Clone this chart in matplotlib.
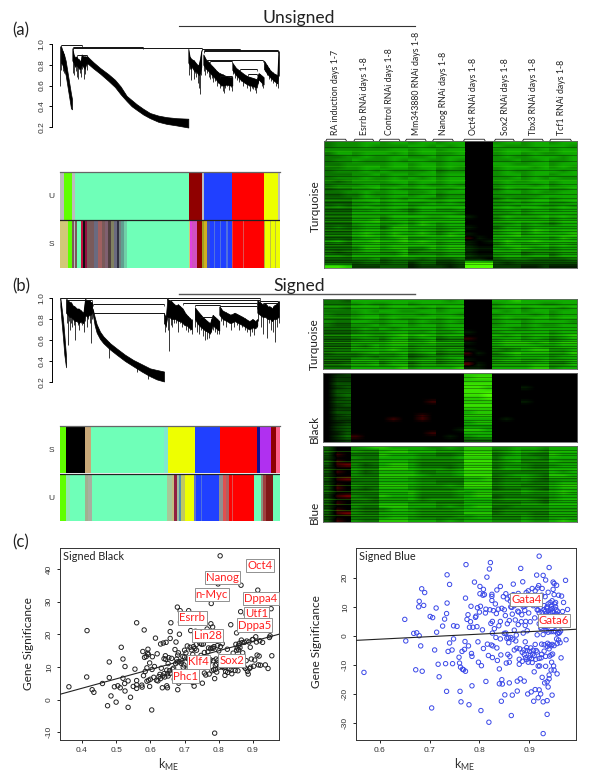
import matplotlib
matplotlib.use("Agg")
import matplotlib.pyplot as plt
from matplotlib.colors import LinearSegmentedColormap
from matplotlib.lines import Line2D
import numpy as np

W, H = 600, 776
FONT = "Lato"
TICK_FONT = "Liberation Sans"

AQUA = "#6fffb8"
GREEN = "#60ff00"
BLUE = "#2040ff"
RED = "#ff0000"
YEL = "#eeff00"
DRED = "#900000"
GREY = "#bdbdbd"
KHAK = "#d2c878"
TAN = "#c8a878"
MAG = "#e040e0"
PURP = "#b030f0"
BRN = "#7a5a5a"
SLAT = "#6a6a80"
PINK = "#ff6088"
NAVY = "#101090"

# ---- module colour rows: (width, colour), widths in bar units ----
a_unsigned = [(12, GREY), (23, GREEN), (10, GREY), (342, AQUA), (38, DRED), (6, GREY),
              (83, BLUE), (95, RED), (42, YEL), (7, GREY)]
a_signed = [(23, KHAK), (12, GREEN), (6, BRN), (5, GREY), (4, BRN), (13, AQUA), (5, "#c01040"),
            (6, "#101010"), (8, "#901040"), (20, BRN), (12, SLAT), (12, "#a06060"), (9, BRN), (8, "#806070"),
            (9, "#504040"), (9, "#808060"), (8, SLAT), (6, "#303040"), (7, "#708080"), (10, "#60a090"),
            (8, "#70d0a8"), (185, AQUA), (4, KHAK), (6, MAG), (15, "#d050c0"), (15, DRED), (6, "#a0a020"),
            (9, "#d0b020"), (8, "#4050c0"), (12, BLUE), (4, "#5070e0"), (14, BLUE), (4, "#5070e0"),
            (15, BLUE), (4, "#5070e0"), (13, BLUE), (4, "#e04040"), (30, RED), (3, "#e05050"), (58, RED),
            (5, "#b0b030"), (13, YEL), (4, "#c0c040"), (13, YEL), (3, "#c0c040"), (11, YEL)]
b_signed = [(18, GREEN), (58, "#000000"), (16, TAN), (218, AQUA), (12, "#80e8d0"), (82, YEL), (74, BLUE),
            (112, RED), (8, NAVY), (32, PURP), (15, DRED), (13, PINK)]
b_unsigned = [(17, GREEN), (12, "#90e8b0"), (46, AQUA), (10, "#a0b090"), (10, "#a8b0a0"), (226, AQUA),
              (15, "#a8c898"), (5, "#c0c080"), (8, "#902040"), (6, "#a0c0a0"), (8, "#5090b0"), (10, "#c0c860"),
              (28, YEL), (6, "#6070d0"), (14, BLUE), (4, "#5070e0"), (50, BLUE), (12, "#909090"), (8, "#e05050"),
              (10, "#b06060"), (8, RED), (4, "#e05050"), (63, RED), (20, AQUA), (8, "#909080"), (8, "#a04040"),
              (22, "#801818"), (20, AQUA)]

# ---- dendrogram branches: (x, top height, bottom height) in leaf units ----
a_branch_1 = [(183, 0.98, 0.82), (187, 0.94, 0.80), (192, 0.90, 0.76), (197, 0.84, 0.70),
              (203, 0.72, 0.58), (208, 0.62, 0.48), (213, 0.52, 0.38), (216, 0.47, 0.37)]
a_branch_2 = [(217, 0.96, 0.84), (221, 0.90, 0.82), (225, 0.87, 0.78), (229, 0.88, 0.80), (233, 0.86, 0.78),
              (238, 0.85, 0.76), (241, 0.82, 0.76), (245, 0.90, 0.80), (250, 0.88, 0.78), (254, 0.88, 0.76),
              (258, 0.88, 0.80), (262, 0.88, 0.82)]
a_main = [(262, 0.88, 0.815), (280, 0.825, 0.765), (300, 0.77, 0.715), (325, 0.71, 0.645), (345, 0.655, 0.585),
          (362, 0.59, 0.515), (380, 0.50, 0.45), (395, 0.46, 0.40), (410, 0.42, 0.365), (430, 0.375, 0.32),
          (450, 0.335, 0.285), (475, 0.31, 0.25), (500, 0.295, 0.23), (530, 0.285, 0.215), (565, 0.28, 0.195)]
a_branch_3 = [(565, 0.955, 0.82), (569, 0.88, 0.80), (573, 0.86, 0.76), (577, 0.85, 0.78), (582, 0.84, 0.74),
              (587, 0.82, 0.74), (592, 0.80, 0.72), (596, 0.80, 0.70), (600, 0.86, 0.72), (604, 0.94, 0.78)]
a_branch_4 = [(610, 0.90, 0.80), (618, 0.85, 0.76), (625, 0.83, 0.74), (633, 0.80, 0.71), (642, 0.77, 0.68),
              (650, 0.74, 0.65), (658, 0.72, 0.62), (666, 0.71, 0.60), (672, 0.70, 0.60), (680, 0.69, 0.61),
              (690, 0.68, 0.60), (697, 0.68, 0.60)]
a_branch_5 = [(697, 0.82, 0.75), (708, 0.77, 0.70), (720, 0.74, 0.66), (732, 0.71, 0.63), (742, 0.69, 0.61),
              (752, 0.68, 0.60), (762, 0.67, 0.59), (770, 0.66, 0.58), (776, 0.72, 0.66), (784, 0.70, 0.63),
              (791, 0.68, 0.61)]
a_branch_6 = [(792, 0.84, 0.76), (800, 0.80, 0.72), (810, 0.75, 0.68), (820, 0.72, 0.65), (832, 0.70, 0.62),
              (835, 0.93, 0.72)]
a_merges = [(182, 245, 0.99), (220, 430, 0.975), (220, 605, 0.96), (607, 720, 0.955), (612, 835, 0.945),
            (612, 835, 0.93), (620, 790, 0.85), (630, 697, 0.84), (660, 695, 0.695), (720, 770, 0.76),
            (745, 770, 0.71), (230, 260, 0.895)]
# thin leaves hanging from the branches: x, lowest height
a_leaf_x = [181, 184, 188, 191, 219, 223, 227, 231, 235, 239, 243, 247, 252, 256, 260, 567, 570, 574, 578, 581, 585,
            589, 594, 597, 600, 603, 612, 616, 620, 626, 630, 636, 640, 646, 650, 655, 660, 664, 668, 671, 676, 682,
            687, 692, 696, 700, 706, 712, 718, 724, 730, 736, 742, 746, 751, 756, 760, 765, 769, 775, 780, 786, 790,
            795, 800, 806, 812, 818, 824, 829, 833, 836]
a_leaf_y = [0.60, 0.75, 0.74, 0.72, 0.72, 0.70, 0.74, 0.68, 0.66, 0.72, 0.68, 0.76, 0.66, 0.71, 0.75, 0.70, 0.76, 0.65,
            0.76, 0.66, 0.72, 0.68, 0.62, 0.58, 0.52, 0.70, 0.74, 0.70, 0.72, 0.68, 0.66, 0.67, 0.63, 0.64, 0.60, 0.62,
            0.58, 0.60, 0.55, 0.53, 0.58, 0.60, 0.56, 0.59, 0.55, 0.71, 0.67, 0.65, 0.63, 0.64, 0.60, 0.62, 0.58, 0.60,
            0.55, 0.58, 0.57, 0.56, 0.53, 0.62, 0.64, 0.60, 0.58, 0.74, 0.70, 0.66, 0.64, 0.62, 0.65, 0.60, 0.58, 0.69]

b_branch_1 = [(181, 1.0, 0.92), (185, 0.9, 0.76), (189, 0.8, 0.62), (193, 0.65, 0.46), (198, 0.45, 0.34)]
b_branch_2 = [(198, 0.99, 0.86), (203, 0.98, 0.84), (208, 0.96, 0.82), (213, 0.96, 0.82), (218, 0.93, 0.80),
              (224, 0.92, 0.78), (230, 0.90, 0.78), (236, 0.90, 0.76), (243, 0.88, 0.78), (250, 0.86, 0.76),
              (255, 0.99, 0.84), (262, 0.98, 0.82), (268, 0.98, 0.84), (272, 0.96, 0.84), (276, 0.96, 0.86)]
b_main = [(278, 0.90, 0.85), (284, 0.82, 0.74), (290, 0.75, 0.67), (300, 0.68, 0.61), (310, 0.635, 0.57),
          (330, 0.57, 0.51), (350, 0.52, 0.46), (375, 0.46, 0.40), (400, 0.41, 0.35), (425, 0.37, 0.30),
          (450, 0.33, 0.255), (470, 0.315, 0.225), (492, 0.30, 0.205)]
b_branch_3 = [(492, 0.86, 0.76), (497, 0.80, 0.74), (502, 0.99, 0.82), (508, 0.98, 0.82), (514, 0.97, 0.80),
              (520, 0.95, 0.80), (527, 0.93, 0.80), (534, 0.94, 0.78), (541, 0.92, 0.78), (548, 0.90, 0.76),
              (555, 0.86, 0.74), (560, 0.84, 0.74), (566, 0.82, 0.72), (575, 0.79, 0.70)]
b_branch_4 = [(585, 0.91, 0.80), (592, 0.88, 0.76), (600, 0.85, 0.73), (608, 0.82, 0.71), (615, 0.80, 0.69),
              (622, 0.78, 0.68), (630, 0.76, 0.66), (638, 0.84, 0.74), (645, 0.82, 0.72), (652, 0.80, 0.70),
              (658, 0.78, 0.69)]
b_branch_5 = [(658, 0.92, 0.84), (668, 0.88, 0.80), (680, 0.86, 0.78), (692, 0.84, 0.76), (704, 0.86, 0.78),
              (716, 0.84, 0.76), (728, 0.82, 0.74), (738, 0.80, 0.72), (748, 0.78, 0.70), (758, 0.80, 0.72),
              (766, 0.78, 0.71), (772, 0.80, 0.74)]
b_branch_6 = [(772, 0.98, 0.86), (780, 0.96, 0.84), (788, 0.94, 0.82), (796, 0.95, 0.82), (803, 0.92, 0.80),
              (810, 0.92, 0.80), (816, 0.90, 0.78), (822, 0.93, 0.80), (828, 0.94, 0.80), (836, 0.97, 0.82)]
b_merges = [(181, 500, 1.0), (200, 275, 0.985), (278, 492, 0.945), (278, 492, 0.86), (502, 780, 1.0),
            (510, 780, 0.985), (548, 770, 0.955), (585, 660, 0.93), (660, 770, 0.92), (600, 640, 0.82),
            (780, 835, 0.975), (790, 835, 0.95)]
b_leaf_x = [183, 200, 203, 206, 210, 214, 217, 221, 225, 228, 233, 238, 242, 247, 252, 256, 260, 265, 269, 272, 275,
            328, 412, 445, 494, 498, 504, 508, 512, 517, 522, 528, 534, 540, 546, 552, 558, 564, 570, 576, 586, 592,
            598, 604, 610, 616, 622, 628, 634, 640, 646, 652, 657, 662, 670, 678, 686, 694, 702, 710, 718, 726, 734,
            742, 749, 756, 763, 770, 775, 782, 790, 800, 806, 812, 820, 826, 832, 836]
b_leaf_y = [0.88, 0.76, 0.55, 0.78, 0.70, 0.76, 0.72, 0.74, 0.60, 0.78, 0.74, 0.70, 0.76, 0.74, 0.68, 0.78, 0.72, 0.80,
            0.76, 0.57, 0.80, 0.43, 0.30, 0.23, 0.68, 0.72, 0.70, 0.50, 0.74, 0.72, 0.76, 0.76, 0.68, 0.76, 0.72, 0.74,
            0.70, 0.68, 0.70, 0.66, 0.72, 0.68, 0.66, 0.70, 0.64, 0.60, 0.61, 0.62, 0.68, 0.70, 0.68, 0.66, 0.66, 0.78,
            0.74, 0.72, 0.76, 0.70, 0.72, 0.74, 0.70, 0.72, 0.70, 0.68, 0.64, 0.68, 0.65, 0.72, 0.78, 0.72, 0.66, 0.62,
            0.76, 0.70, 0.68, 0.58, 0.72, 0.76]

# ---- heat maps, top row first: 3 columns for each of 9 sample groups ----
# digits are green brightness, letters a-c are red brightness
heat_turquoise_a = """
455 566 566 566 566 000 566 566 566
455 565 555 665 656 000 655 566 665
555 555 566 566 566 000 566 656 566
466 566 656 566 556 000 566 565 566
445 565 566 556 566 000 565 566 656
455 655 565 665 565 000 556 556 556
445 555 566 566 566 000 665 566 566
445 566 566 566 565 000 566 656 565
455 565 655 556 455 000 565 566 656
444 556 566 566 566 000 566 566 566
455 565 565 656 566 000 556 565 655
434 555 566 566 566 000 565 566 566
455 566 556 565 565 000 566 656 566
344 556 565 566 556 000 465 566 556
445 565 566 556 566 000 566 565 566
334 465 566 566 455 000 555 556 666
444 566 565 665 566 000 465 566 566
333 556 566 556 565 000 556 566 556
454 565 566 566 666 000 565 665 565
333 556 565 466 556 000 566 566 566
444 666 666 566 665 000 556 566 666
333 555 466 665 566 100 465 556 565
444 667 566 566 666 000 566 666 566
333 566 556 576 566 000 556 565 466
454 566 477 666 566 100 466 566 666
333 566 566 565 456 000 566 576 566
444 676 576 676 576 100 567 566 667
333 566 567 556 666 a10 666 666 576
564 667 667 676 566 101 576 676 666
333 566 566 666 566 100 466 556 565
444 577 677 557 677 211 667 766 566
323 455 446 344 455 100 555 344 455
554 666 667 666 566 211 566 566 466
333 445 344 434 334 110 344 433 334
333 344 344 244 223 999 323 333 333
887 222 333 122 212 999 222 112 111
"""

heat_turquoise_b = """
443 666 666 666 656 000 667 666 666
444 565 566 566 666 000 566 665 566
554 666 566 656 566 000 566 566 656
444 565 665 566 566 000 656 566 566
544 566 566 656 665 000 566 656 566
444 566 565 566 566 000 565 566 566
544 665 566 565 565 000 566 566 665
433 556 566 566 566 000 566 565 566
444 565 656 666 566 000 665 566 666
333 455 566 556 556 100 566 666 566
444 665 567 676 566 000 656 566 567
333 455 466 456 344 a00 566 565 456
444 666 677 667 666 100 677 767 677
333 546 566 455 444 000 566 665 566
444 666 676 566 566 100 545 677 556
344 456 556 456 344 a10 467 666 557
444 454 556 345 566 000 556 666 566
333 666 566 566 456 100 566 556 556
334 556 466 355 455 b10 555 566 446
444 666 667 566 667 110 666 677 566
"""

heat_black_b = """
012 000 000 000 000 777 000 000 000
022 000 000 000 000 788 000 000 000
022 000 000 000 000 777 000 000 000
033 000 000 000 000 888 000 000 000
023 000 000 000 000 887 000 100 000
033 000 000 000 000 888 000 000 000
034 000 000 000 000 889 000 000 000
023 000 000 000 000 778 000 000 000
033 000 000 00a 000 777 000 100 000
023 000 000 000 000 888 000 000 000
022 000 000 000 000 777 000 000 000
033 000 000 000 000 677 000 000 000
023 000 000 0a0 000 777 000 000 000
022 000 0a0 0a0 000 666 010 000 000
012 000 000 000 000 677 000 000 000
023 000 000 000 000 555 000 000 000
023 000 000 000 001 776 000 000 000
013 000 000 00a 000 666 000 000 000
024 a00 000 000 010 566 000 000 000
012 000 000 000 000 333 000 000 000
"""

heat_blue_b = """
300 567 766 665 565 777 556 665 666
300 544 677 666 555 777 456 554 666
3a0 444 766 655 445 888 456 544 766
200 544 666 655 556 777 466 554 666
3a0 444 666 544 444 888 456 444 655
3ab 534 677 644 445 777 455 544 566
200 544 777 655 545 888 466 544 666
3a0 534 666 644 556 777 444 444 656
200 544 777 765 556 888 456 654 776
3ab 444 666 544 444 667 344 543 555
200 444 666 655 444 777 455 544 566
3a0 544 777 655 565 888 455 444 677
3a0 434 666 544 445 666 344 543 566
300 444 666 755 556 677 555 655 676
2ab 544 766 644 445 677 344 444 566
300 443 555 645 555 666 455 543 566
3a0 444 666 555 444 666 444 554 666
200 544 777 666 565 677 445 555 666
3a0 433 466 544 445 666 344 444 555
3ab 544 666 655 555 777 455 544 666
200 444 566 544 445 566 444 544 555
3a0 544 777 666 565 666 555 655 676
"""

# fine dark and bright gene rows inside the heat maps, in row units
turq_a_dark = [1.3, 3.6, 5.2, 7.8, 9.4, 11.7, 13.1, 14.4, 15.6, 16.8, 17.6, 18.7, 19.4, 20.3, 21.2, 21.9, 22.8, 23.5,
               24.3, 25.1, 25.8, 26.6, 27.3, 28.1, 28.7, 29.5, 30.2, 30.9, 31.6, 32.4, 33.1, 33.8, 34.3]
turq_a_light = [2.4, 6.5, 10.6, 12.4, 16.2, 18.2, 20.8, 22.3, 24.8, 26.2, 27.8, 29.1, 30.6, 32.0]
turq_b_dark = [0.8, 2.2, 3.7, 5.1, 6.4, 7.6, 8.3, 9.2, 10.1, 10.8, 11.4, 12.2, 12.9, 13.6, 14.3, 15.1, 15.8, 16.5,
               17.2, 17.9, 18.5]
turq_b_light = [1.6, 4.5, 9.7, 11.8, 13.2, 14.7, 16.9, 18.1]
black_dark = [0.7, 1.9, 3.1, 3.9, 5.2, 6.4, 7.3, 8.1, 9.4, 10.2, 11.3, 12.1, 13.0, 13.8, 14.6, 15.5, 16.2, 17.3, 18.1,
              18.8]
black_light = []
blue_dark = [0.6, 1.4, 2.2, 3.3, 4.1, 4.9, 5.7, 6.5, 7.2, 8.1, 8.8, 9.6, 10.4, 11.2, 11.9, 12.8, 13.5, 14.3, 15.1,
             15.8, 16.6, 17.4, 18.3, 19.1, 19.9, 20.7]
blue_light = [1.0, 3.7, 6.1, 8.4, 10.8, 12.4, 14.7, 16.2, 17.9, 19.5]

group_labels = ["RA induction days 1-7", "Esrrb RNAi days 1-8", "Control RNAi days 1-8",
                "Mm343880 RNAi days 1-8", "Nanog RNAi days 1-8", "Oct4 RNAi days 1-8",
                "Sox2 RNAi days 1-8", "Tbx3 RNAi days 1-8", "Tcf1 RNAi days 1-8"]
# label centres and bracket spans in heat map columns (27 columns wide)
group_centres = [1.28, 4.27, 7.04, 9.82, 12.7, 16.0, 19.4, 22.4, 25.3]
group_spans = [(0.2, 2.4), (3.2, 5.3), (5.9, 8.1), (8.7, 10.9), (11.6, 13.8), (14.9, 17.2),
               (18.2, 20.3), (21.2, 23.4), (24.1, 26.4)]

# ---- scatter data (k_ME, gene significance) ----
black_points = [
    (0.362, 3.9), (0.415, 21.1), (0.414, 6.9), (0.43, 3.0), (0.435, 2.2), (0.46, 4.9), (0.475, -1.9),
    (0.48, 11.5), (0.48, 6.7), (0.485, 1.1), (0.495, 3.9), (0.5, -0.8), (0.505, 4.2), (0.512, 3.6),
    (0.515, 16.0), (0.52, 12.4), (0.52, 6.5), (0.526, 10.1), (0.525, 4.9), (0.526, 2.6), (0.535, 5.7),
    (0.535, -2.4), (0.542, 0.7), (0.55, 4.0), (0.555, 9.3), (0.56, 4.5), (0.56, 23.5), (0.56, 5.8),
    (0.56, 3.4), (0.575, 4.4), (0.576, 3.8), (0.578, 14.7), (0.58, 7.3), (0.582, 21.3), (0.583, 12.9),
    (0.585, 8.6), (0.588, 13.2), (0.59, 5.6), (0.59, 9.7), (0.592, 14.2), (0.593, 15.4), (0.594, 13.8),
    (0.595, 5.9), (0.598, 11.2), (0.598, 4.0), (0.6, 6.2), (0.604, -3.2), (0.605, 9.2), (0.606, 13.1),
    (0.61, 6.8), (0.612, 10.1), (0.615, 18.8), (0.618, 5.9), (0.62, 14.0), (0.625, 7.0), (0.628, 7.7),
    (0.63, 17.0), (0.632, 9.6), (0.635, 3.6), (0.638, 17.3), (0.64, 12.5), (0.642, 6.9), (0.644, 13.4),
    (0.645, 12.3), (0.646, 17.5), (0.648, 4.2), (0.65, 3.6), (0.65, 7.9), (0.652, 11.0), (0.654, 12.8),
    (0.656, 8.8), (0.658, 18.7), (0.658, 20.8), (0.66, 23.5), (0.662, 12.6), (0.665, 9.3), (0.67, 6.2),
    (0.672, 15.3), (0.675, 17.6), (0.677, 12.4), (0.678, 11.5), (0.679, 28.3), (0.68, 3.0), (0.682, 14.3),
    (0.683, 5.0), (0.685, 20.0), (0.687, 27.2), (0.688, 23.7), (0.69, 11.1), (0.692, 7.3), (0.695, 13.2),
    (0.698, 10.6), (0.7, 15.1), (0.702, 8.3), (0.705, 6.4), (0.708, 16.4), (0.71, 12.5), (0.712, 27.2),
    (0.714, 6.0), (0.718, 21.1), (0.72, 7.8), (0.722, 11.9), (0.724, 5.2), (0.726, 16.2), (0.728, 4.1),
    (0.73, 15.6), (0.732, 20.9), (0.735, 15.1), (0.737, 9.5), (0.74, 19.2), (0.742, 12.6), (0.745, 17.2),
    (0.748, 13.5), (0.75, 23.5), (0.752, 5.0), (0.755, 17.0), (0.758, 14.4), (0.76, 9.8), (0.762, 7.5),
    (0.766, 21.6), (0.768, 10.5), (0.77, 15.8), (0.772, 7.8), (0.775, 12.2), (0.777, 23.2), (0.778, 29.4),
    (0.78, 15.8), (0.782, 22.2), (0.784, 15.7), (0.785, 9.1), (0.788, 6.4), (0.788, -10.3), (0.79, 10.5),
    (0.792, 12.4), (0.794, 8.4), (0.796, 16.5), (0.798, 35.4), (0.802, 9.9), (0.804, 44.0), (0.805, 16.2),
    (0.808, 10.1), (0.81, 17.1), (0.812, 12.2), (0.815, 9.7), (0.818, 7.4), (0.82, 8.6), (0.822, 11.0),
    (0.825, 15.4), (0.83, 9.4), (0.835, 22.9), (0.838, 7.9), (0.84, 10.4), (0.844, 11.5), (0.848, 8.9),
    (0.85, 16.9), (0.852, 20.4), (0.854, 15.8), (0.856, 8.8), (0.858, 15.2), (0.86, 17.2), (0.862, 11.2),
    (0.864, 26.9), (0.865, 35.0), (0.866, 18.2), (0.868, 17.4), (0.87, 14.3), (0.875, 17.5), (0.878, 9.5),
    (0.88, 26.0), (0.882, 17.9), (0.884, 8.6), (0.886, 7.8), (0.89, 9.5), (0.892, 16.0), (0.895, 12.4),
    (0.898, 18.3), (0.902, 10.2), (0.905, 12.1), (0.908, 19.2), (0.912, 13.6), (0.914, 33.5), (0.916, 10.6),
    (0.918, 13.3), (0.92, 18.0), (0.922, 10.5), (0.925, 30.5), (0.928, 17.5), (0.932, 26.5), (0.936, 10.6),
    (0.94, 22.8), (0.944, 9.5), (0.945, 39.6), (0.948, 19.0), (0.95, 19.5), (0.953, 27.8), (0.955, 13.4),
    (0.622, 5.7), (0.63, 6.4), (0.636, 7.2), (0.64, 7.9), (0.648, 9.0), (0.652, 7.2), (0.658, 8.0), (0.668, 9.6),
    (0.674, 11.0), (0.68, 13.6), (0.684, 11.6), (0.692, 11.8), (0.696, 9.9), (0.7, 13.0), (0.704, 14.3),
    (0.71, 9.5), (0.716, 16.0), (0.72, 15.2), (0.724, 13.8), (0.728, 9.2), (0.734, 16.8), (0.738, 12.0),
    (0.744, 11.1), (0.75, 16.9), (0.754, 10.2), (0.758, 8.1), (0.762, 12.8), (0.768, 14.6), (0.772, 11.4),
    (0.776, 15.6), (0.78, 8.8), (0.784, 11.9), (0.786, 16.2), (0.79, 9.2), (0.794, 10.8), (0.798, 12.0),
    (0.8, 14.9), (0.806, 11.4), (0.81, 10.0), (0.814, 11.7), (0.82, 9.9), (0.826, 8.3), (0.832, 12.4),
    (0.836, 9.0), (0.842, 14.2), (0.846, 10.3), (0.852, 15.1), (0.858, 16.6), (0.862, 15.9), (0.87, 11.0),
    (0.874, 10.0), (0.88, 11.9), (0.888, 17.6), (0.893, 9.9), (0.9, 18.4), (0.91, 17.6),
]

blue_points = [
    (0.568, -12.5), (0.65, 5.7), (0.652, -1.7), (0.668, 0.9), (0.674, 1.1), (0.679, 0.1), (0.679, 11.9),
    (0.678, 10.0), (0.684, 16.2), (0.69, 14.9), (0.688, 10.5), (0.682, -3.4), (0.672, -11.6), (0.685, -12.1),
    (0.701, 6.7), (0.706, 6.3), (0.71, -4.8), (0.704, -24.7), (0.713, 9.6), (0.714, 1.3), (0.717, -9.7),
    (0.719, -14.0), (0.726, 3.4), (0.73, 5.8), (0.732, -9.5), (0.734, 7.7), (0.735, 21.0), (0.735, 11.3),
    (0.734, -19.0), (0.737, -5.3), (0.74, 17.7), (0.74, -2.4), (0.745, -4.8), (0.746, -9.5), (0.748, 3.5),
    (0.748, -1.0), (0.755, 3.3), (0.759, -7.3), (0.76, -9.3), (0.761, -19.0), (0.762, -10.7), (0.763, -22.6),
    (0.765, -5.3), (0.766, -11.4), (0.768, -11.6), (0.77, -4.6), (0.771, -1.9), (0.772, -12.1), (0.772, 13.0),
    (0.773, 24.5), (0.775, 5.7), (0.777, 7.3), (0.778, -3.4), (0.779, -23.6), (0.78, 3.0), (0.782, 4.9),
    (0.783, 10.2), (0.784, -6.0), (0.785, -7.0), (0.785, -17.1), (0.787, 3.0), (0.79, 18.5), (0.792, 6.4),
    (0.793, 6.8), (0.795, 3.2), (0.796, 9.7), (0.797, -2.0), (0.798, -9.0), (0.8, 8.2), (0.801, 14.5),
    (0.801, 17.0), (0.802, 10.2), (0.803, -25.6), (0.804, -10.2), (0.806, 2.1), (0.807, 14.0), (0.808, 16.0),
    (0.808, -4.3), (0.81, 14.2), (0.812, 7.9), (0.813, 9.2), (0.813, -15.6), (0.815, 20.2), (0.816, -2.8),
    (0.818, -6.7), (0.819, -29.6), (0.82, 23.0), (0.821, 9.0), (0.822, 25.2), (0.823, 4.3), (0.824, -3.1),
    (0.825, 14.3), (0.825, 13.6), (0.825, 12.2), (0.826, 5.0), (0.826, 1.0), (0.826, -7.4), (0.827, -3.4),
    (0.828, 8.7), (0.83, 2.5), (0.832, 11.0), (0.833, -0.5), (0.834, 7.7), (0.835, 15.8), (0.835, -4.1),
    (0.836, -8.4), (0.838, 9.2), (0.839, 3.5), (0.84, -16.4), (0.84, -11.3), (0.842, 5.0), (0.842, 17.0),
    (0.842, -1.0), (0.843, -6.5), (0.844, -22.4), (0.845, 9.5), (0.845, -15.0), (0.846, -16.5), (0.848, 13.5),
    (0.85, 9.0), (0.85, 0.9), (0.851, -20.2), (0.852, 7.0), (0.853, 14.5), (0.853, 1.0), (0.854, -9.3),
    (0.855, -0.8), (0.856, 12.7), (0.856, 4.2), (0.857, -6.3), (0.858, -0.5), (0.859, -2.3), (0.86, 5.3),
    (0.86, -16.1), (0.86, -9.0), (0.861, -7.0), (0.862, 13.6), (0.863, 10.0), (0.863, -0.5), (0.864, -27.3),
    (0.865, 9.8), (0.866, 7.5), (0.866, -20.3), (0.867, -1.1), (0.868, 17.8), (0.87, 2.0), (0.87, -4.8),
    (0.872, 13.0), (0.872, 5.5), (0.873, -1.7), (0.874, 0.3), (0.875, -4.2), (0.876, -15.5), (0.876, -18.9),
    (0.877, 8.5), (0.878, 14.6), (0.878, 3.9), (0.879, 8.2), (0.88, -8.0), (0.88, -9.7), (0.881, -4.4),
    (0.882, -14.7), (0.883, 23.2), (0.884, 12.7), (0.884, 4.9), (0.885, 7.3), (0.886, -8.7), (0.887, 18.6),
    (0.888, 10.0), (0.888, 1.0), (0.889, -4.8), (0.89, 13.0), (0.89, -15.5), (0.891, 8.8), (0.892, 3.6),
    (0.892, -2.0), (0.893, 5.0), (0.894, 14.9), (0.895, -4.0), (0.895, -8.1), (0.896, 1.8), (0.897, -19.9),
    (0.898, 15.5), (0.899, 7.9), (0.9, -7.5), (0.9, 12.4), (0.901, -5.3), (0.902, 4.9), (0.903, -4.1),
    (0.904, -19.2), (0.905, 11.0), (0.906, 16.3), (0.906, -9.1), (0.907, -6.2), (0.908, 10.4), (0.909, -22.4),
    (0.91, -12.3), (0.91, -6.8), (0.911, 6.2), (0.912, 15.5), (0.912, -18.4), (0.913, -8.0), (0.914, -5.0),
    (0.915, 20.9), (0.916, 9.0), (0.916, 0.4), (0.917, 16.5), (0.918, -21.2), (0.918, -10.3), (0.919, 17.3),
    (0.92, 7.9), (0.92, -18.5), (0.921, -10.3), (0.922, 6.0), (0.923, 3.0), (0.923, -19.9), (0.924, -7.5),
    (0.925, 14.0), (0.925, -2.8), (0.926, 16.3), (0.926, -14.2), (0.928, 5.0), (0.928, 0.5), (0.92, 27.4),
    (0.93, 9.0), (0.93, -5.2), (0.931, -16.1), (0.932, 13.5), (0.932, 3.2), (0.933, -10.4), (0.934, 7.6),
    (0.928, -22.6), (0.936, 10.0), (0.937, -2.5), (0.938, 15.0), (0.938, 8.6), (0.928, -33.5), (0.928, 20.8),
    (0.94, -3.0), (0.941, -6.9), (0.942, 11.5), (0.936, -15.7), (0.943, 8.0), (0.944, 1.5), (0.944, -6.5),
    (0.933, 19.2), (0.946, 12.1), (0.946, 9.4), (0.947, -6.2), (0.936, -22.2), (0.949, 1.5), (0.95, 14.2),
    (0.938, -17.5), (0.936, -26.9), (0.94, -13.4), (0.952, 1.8), (0.94, 23.5), (0.954, 9.0), (0.944, -11.7),
    (0.94, -14.7), (0.956, -2.6), (0.957, 7.2), (0.945, -9.0), (0.96, 1.2), (0.946, -20.3), (0.951, 11.0),
    (0.948, 18.5), (0.948, 16.0), (0.95, 18.0), (0.95, -3.3), (0.95, -11.7), (0.949, -10.3), (0.953, 11.5),
    (0.957, 8.5), (0.953, 10.0), (0.955, 7.5), (0.955, 17.4), (0.955, -1.0), (0.957, 0.8), (0.956, -13.0),
    (0.959, 14.0), (0.96, 1.0), (0.959, -1.4), (0.962, -2.3), (0.963, 1.7), (0.965, 13.7), (0.969, 11.5),
    (0.967, 8.4), (0.964, -7.5), (0.973, 19.1), (0.974, -1.3), (0.977, 9.1),
    (0.886, -5.6), (0.89, -6.4), (0.893, -7.4), (0.896, -5.0), (0.898, -9.0), (0.902, -6.6), (0.905, -7.8),
    (0.908, -4.9), (0.912, -2.9), (0.916, -5.5), (0.92, -7.7), (0.925, -6.3), (0.93, -3.0), (0.933, -7.0),
    (0.936, -3.6), (0.94, -4.4), (0.944, -3.4), (0.946, -2.9), (0.918, 8.9), (0.922, 9.8), (0.926, 8.0),
    (0.93, 10.4), (0.932, 8.4), (0.935, 9.6), (0.938, 11.0), (0.94, 7.2), (0.943, 9.0), (0.92, 4.2), (0.924, 2.5),
    (0.926, 3.6), (0.929, 6.8), (0.932, 5.6), (0.934, 1.9), (0.936, 2.9), (0.938, 1.3), (0.94, 3.9), (0.942, 5.0),
    (0.945, 10.3), (0.947, 8.5), (0.95, 7.0), (0.952, 6.0), (0.862, 12.0), (0.868, 14.2), (0.87, 10.4),
    (0.874, 11.9), (0.882, 11.5), (0.89, 10.3), (0.894, 10.6),
]

black_names = ["Oct4", "Nanog", "n-Myc", "Dppa4", "Utf1", "Esrrb", "Dppa5", "Lin28", "Klf4", "Sox2", "Phc1"]
black_name_x = [0.92, 0.81, 0.78, 0.923, 0.91, 0.723, 0.905, 0.767, 0.74, 0.838, 0.702]
black_name_y = [41.0, 37.4, 32.2, 31.0, 26.4, 25.0, 22.8, 19.5, 11.5, 12.0, 7.2]
blue_names = ["Gata4", "Gata6"]
blue_name_x = [0.894, 0.95]
blue_name_y = [12.5, 5.2]

black_line_x = [0.336, 0.976]
black_line_y = [1.6, 20.0]
blue_line_x = [0.552, 0.994]
blue_line_y = [-1.5, 2.3]


def px_axes(fig, x0, y0, x1, y1):
    return fig.add_axes([x0 / W, 1 - y1 / H, (x1 - x0) / W, (y1 - y0) / H])


def fig_line(fig, x0, x1, y, **kw):
    fig.add_artist(Line2D([x0 / W, x1 / W], [1 - y / H, 1 - y / H], transform=fig.transFigure, **kw))


def fig_text(fig, x, y, s, **kw):
    fig.text(x / W, 1 - y / H, s, **kw)


def draw_dendro(fig, box, branches, merges, leaf_x, leaf_y):
    ax = px_axes(fig, *box)
    ax.set_xlim(180, 838)
    ax.set_ylim(0.2, 1.0)
    ax.patch.set_visible(False)
    all_x, all_top = [], []
    for branch in branches:
        xs, tops, bottoms = zip(*branch)
        ax.fill_between(xs, tops, bottoms, color="black", lw=0.5, clip_on=False)
        all_x.extend(xs)
        all_top.extend(tops)
    # leaves start from the branch above them
    order = np.argsort(all_x)
    leaf_top = np.interp(leaf_x, np.array(all_x)[order], np.array(all_top)[order])
    ax.vlines(leaf_x, leaf_y, leaf_top, color="black", lw=0.55, clip_on=False)
    for x0, x1, y in merges:
        ax.hlines(y, x0, x1, color="#111111", lw=0.7, clip_on=False)
        ax.vlines([x0, x1], y - 0.02, y, color="#111111", lw=0.5, clip_on=False)
    for side in ["top", "right", "bottom"]:
        ax.spines[side].set_visible(False)
    ax.spines["left"].set_position(("outward", 5.8))
    ax.spines["left"].set_linewidth(0.7)
    ax.set_xticks([])
    ax.set_yticks([0.2, 0.4, 0.6, 0.8, 1.0])
    ax.set_yticklabels(["0.2", "0.4", "0.6", "0.8", "1.0"], rotation=90, va="center", fontsize=6,
                       color="#333333", family=TICK_FONT)
    ax.tick_params(axis="y", length=2.5, width=0.7, pad=2)


def draw_modules(fig, box, top_row, bottom_row, labels):
    ax = px_axes(fig, *box)
    for level, row in zip([1, 0], [top_row, bottom_row]):
        left = 0
        for width, colour in row:
            ax.barh(level + 0.5, width, left=left, height=1, color=colour, lw=0)
            left += width
    ax.set_xlim(0, max(sum(w for w, c in top_row), sum(w for w, c in bottom_row)))
    ax.set_ylim(0, 2)
    ax.axhline(1, color="#222222", lw=0.9)
    ax.axhline(2, color="#666666", lw=0.9, clip_on=False)
    for spine in ax.spines.values():
        spine.set_visible(False)
    ax.set_xticks([])
    ax.set_yticks([1.5, 0.5])
    ax.set_yticklabels(labels, fontsize=6, color="#333333", family=TICK_FONT)
    ax.tick_params(axis="y", length=0, pad=4)


def draw_heat(fig, box, text, dark_rows, light_rows, label, label_y):
    ax = px_axes(fig, *box)
    values = {"a": -1, "b": -2, "c": -3}
    rows = []
    for line in text.strip().splitlines():
        rows.append([values.get(c, int(c) if c.isdigit() else 0) for c in line.replace(" ", "")])
    grid = np.array(rows)
    n_rows, n_cols = grid.shape
    # each sample group on its own so that smoothing stays inside the group
    for col in range(0, n_cols, 3):
        ax.imshow(grid[:, col:col + 3], cmap=HEAT_CMAP, vmin=-3, vmax=9, aspect="auto", interpolation="bilinear",
                  extent=(col - 0.5, col + 2.5, n_rows - 0.5, -0.5))
    # Oct4 group (columns 15-17) stays out of the bright rows
    ax.hlines(dark_rows, -0.5, n_cols - 0.5, color="black", lw=0.55, alpha=0.42)
    if light_rows:
        ax.hlines(light_rows, -0.5, 14.5, color="#40e000", lw=0.55, alpha=0.35)
        ax.hlines(light_rows, 17.5, n_cols - 0.5, color="#40e000", lw=0.55, alpha=0.35)
    ax.set_xlim(-0.5, n_cols - 0.5)
    ax.set_ylim(n_rows - 0.5, -0.5)
    ax.set_xticks([])
    ax.set_yticks([])
    for spine in ax.spines.values():
        spine.set_linewidth(0.6)
        spine.set_color("#666666")
    fig_text(fig, box[0] - 9, label_y, label, rotation=90, ha="center", va="center", fontsize=8.5,
             family=FONT, color="#222222")
    return ax


def draw_scatter(fig, box, points, colour, xlim, ylim, xticks, yticks, line_x, line_y, title, names, name_x, name_y):
    ax = px_axes(fig, *box)
    xs, ys = zip(*points)
    ax.scatter(xs, ys, s=10, facecolors="none", edgecolors=colour, linewidths=0.7, zorder=2)
    ax.plot(line_x, line_y, color="#222222", lw=0.8, zorder=3)
    ax.set_xlim(xlim)
    ax.set_ylim(ylim)
    ax.set_xticks(xticks)
    ax.set_yticks(yticks)
    ax.set_xticklabels([f"{t:.1f}" for t in xticks], fontsize=6, color="#333333", family=TICK_FONT)
    ax.set_yticklabels([str(t) for t in yticks], rotation=90, va="center", fontsize=6, color="#333333",
                       family=TICK_FONT)
    ax.tick_params(length=2.5, width=0.6, pad=2.5)
    for spine in ax.spines.values():
        spine.set_linewidth(0.7)
        spine.set_color("#333333")
    ax.text(0.012, 0.985, title, transform=ax.transAxes, ha="left", va="top", fontsize=7.8, family=FONT,
            color="#222222")
    for name, x, y in zip(names, name_x, name_y):
        ax.text(x, y, name, ha="center", va="center", color="#ff2020", fontsize=8.2, family=FONT, zorder=4,
                bbox=dict(boxstyle="square,pad=0.1", fc="white", ec="#909090", lw=0.7))
    return ax


HEAT_CMAP = LinearSegmentedColormap.from_list(
    "redgreen", [(0, "#b00000"), (0.25, "#000000"), (0.75, "#10aa00"), (1, "#50ff00")])

fig = plt.figure(figsize=(W / 100, H / 100), dpi=100)

# panel letters and titles
for y, s in [(30, "(a)"), (286, "(b)"), (542, "(c)")]:
    fig_text(fig, 12, y, s, ha="left", va="center", fontsize=12, family=FONT, color="#222222")
fig_text(fig, 299, 23, "Unsigned", ha="center", va="baseline", fontsize=12.6, family=FONT, color="#222222")
fig_text(fig, 299, 291, "Signed", ha="center", va="baseline", fontsize=12.6, family=FONT, color="#222222")
fig_line(fig, 179, 415, 26, color="#333333", lw=0.8)
fig_line(fig, 179, 415, 294, color="#555555", lw=1.0)

# (a)
draw_dendro(fig, (60, 44, 279.3, 127), [a_branch_1, a_branch_2, a_main, a_branch_3, a_branch_4, a_branch_5, a_branch_6],
            a_merges, a_leaf_x, a_leaf_y)
draw_modules(fig, (60, 172, 280, 268), a_unsigned, a_signed, ["U", "S"])
ax_a = draw_heat(fig, (324, 141, 577, 268), heat_turquoise_a, turq_a_dark, turq_a_light, "Turquoise", 206)
for label, centre, (x0, x1) in zip(group_labels, group_centres, group_spans):
    ax_a.plot([x0 - 0.5, x0 - 0.4, x1 - 0.6, x1 - 0.5], [-0.5, -1.0, -1.0, -0.5], color="#222222", lw=0.6,
              clip_on=False)
    ax_a.text(centre - 0.5, -2.1, label, rotation=90, ha="center", va="bottom", fontsize=6.3,
              family=FONT, color="#222222", clip_on=False)

# (b)
draw_dendro(fig, (60, 298, 279.3, 382), [b_branch_1, b_branch_2, b_main, b_branch_3, b_branch_4, b_branch_5, b_branch_6],
            b_merges, b_leaf_x, b_leaf_y)
draw_modules(fig, (60, 426, 280, 521), b_signed, b_unsigned, ["S", "U"])
draw_heat(fig, (323, 299, 577, 369), heat_turquoise_b, turq_b_dark, turq_b_light, "Turquoise", 344)
draw_heat(fig, (323, 373, 577, 442), heat_black_b, black_dark, black_light, "Black", 429)
draw_heat(fig, (323, 446, 577, 522), heat_blue_b, blue_dark, blue_light, "Blue", 512)

# (c)
draw_scatter(fig, (60, 548, 279, 740), black_points, "#222222", (0.336, 0.976), (-12.4, 46.4),
             [0.4, 0.5, 0.6, 0.7, 0.8, 0.9], [-10, 0, 10, 20, 30, 40], black_line_x, black_line_y,
             "Signed Black", black_names, black_name_x, black_name_y)
draw_scatter(fig, (356, 548, 576, 740), blue_points, "#3a48e8", (0.552, 0.994), (-35.7, 30.2),
             [0.6, 0.7, 0.8, 0.9], [-30, -20, -10, 0, 10, 20], blue_line_x, blue_line_y,
             "Signed Blue", blue_names, blue_name_x, blue_name_y)
for x, y in [(29, 644), (317, 642)]:
    fig_text(fig, x, y, "Gene Significance", rotation=90, ha="center", va="center", fontsize=8.6,
             family=FONT, color="#222222")
for x in [169, 465]:
    fig_text(fig, x, 765, r"k$_{\mathregular{ME}}$", ha="center", va="center", fontsize=9, family=FONT,
             color="#333333")

fig.savefig("out.png", dpi=100)
plt.close(fig)
